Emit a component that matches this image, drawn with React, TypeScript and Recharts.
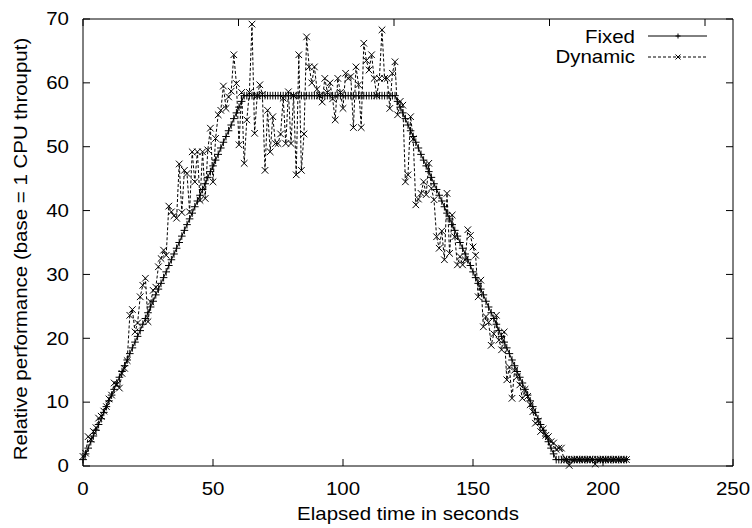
import { LineChart, Line, XAxis, YAxis, Legend } from 'recharts'

// one sample per second, t = index
const fixedPerf = [
  1.0, 1.9, 2.8, 3.8, 4.7, 5.6, 6.5, 7.4, 8.4, 9.3,
  10.2, 11.1, 12.0, 13.0, 13.9, 14.8, 15.7, 16.6, 17.6, 18.5,
  19.4, 20.3, 21.2, 22.2, 23.1, 24.0, 24.9, 25.8, 26.8, 27.7,
  28.6, 29.5, 30.4, 31.4, 32.3, 33.2, 34.1, 35.0, 36.0, 36.9,
  37.8, 38.7, 39.6, 40.6, 41.5, 42.4, 43.3, 44.2, 45.2, 46.1,
  47.0, 47.9, 48.8, 49.8, 50.7, 51.6, 52.5, 53.4, 54.4, 55.3,
  56.2, 57.1, 58.0, 58.0, 58.0, 58.0, 58.0, 58.0, 58.0, 58.0,
  58.0, 58.0, 58.0, 58.0, 58.0, 58.0, 58.0, 58.0, 58.0, 58.0,
  58.0, 58.0, 58.0, 58.0, 58.0, 58.0, 58.0, 58.0, 58.0, 58.0,
  58.0, 58.0, 58.0, 58.0, 58.0, 58.0, 58.0, 58.0, 58.0, 58.0,
  58.0, 58.0, 58.0, 58.0, 58.0, 58.0, 58.0, 58.0, 58.0, 58.0,
  58.0, 58.0, 58.0, 58.0, 58.0, 58.0, 58.0, 58.0, 58.0, 58.0,
  58.0, 57.1, 56.2, 55.3, 54.4, 53.4, 52.5, 51.6, 50.7, 49.8,
  48.8, 47.9, 47.0, 46.1, 45.2, 44.2, 43.3, 42.4, 41.5, 40.6,
  39.6, 38.7, 37.8, 36.9, 36.0, 35.0, 34.1, 33.2, 32.3, 31.4,
  30.4, 29.5, 28.6, 27.7, 26.8, 25.8, 24.9, 24.0, 23.1, 22.2,
  21.2, 20.3, 19.4, 18.5, 17.6, 16.6, 15.7, 14.8, 13.9, 13.0,
  12.0, 11.1, 10.2, 9.3, 8.4, 7.4, 6.5, 5.6, 4.7, 3.8,
  2.8, 1.9, 1.0, 1.0, 1.0, 1.0, 1.0, 1.0, 1.0, 1.0,
  1.0, 1.0, 1.0, 1.0, 1.0, 1.0, 1.0, 1.0, 1.0, 1.0,
  1.0, 1.0, 1.0, 1.0, 1.0, 1.0, 1.0, 1.0, 1.0, 1.0,
]

const dynamicPerf = [
  1.5, 2.0, 4.6, 4.2, 5.4, 6.0, 7.5, 7.8, 8.6, 9.3,
  10.5, 11.1, 13.0, 12.8, 12.2, 14.5, 15.3, 16.5, 23.6, 24.5,
  21.0, 22.4, 26.5, 28.3, 29.4, 22.6, 25.7, 27.5, 28.0, 31.2,
  32.5, 33.8, 33.0, 40.7, 39.8, 39.2, 38.8, 47.3, 39.7, 46.3,
  45.8, 39.8, 49.2, 44.5, 49.2, 41.6, 49.2, 41.9, 49.5, 52.9,
  44.5, 51.3, 55.0, 55.7, 59.5, 56.0, 57.8, 58.7, 64.4, 59.9,
  50.3, 58.5, 47.4, 54.2, 58.5, 69.2, 52.1, 58.0, 59.7, 58.2,
  46.3, 55.7, 49.2, 54.7, 50.5, 50.5, 52.0, 57.6, 50.5, 58.6,
  50.5, 58.0, 45.6, 64.4, 46.3, 52.0, 67.2, 62.5, 60.0, 62.5,
  59.0, 58.0, 57.0, 60.7, 58.5, 60.0, 57.5, 54.2, 60.7, 58.5,
  56.0, 61.5, 60.7, 61.0, 53.0, 62.5, 59.7, 53.0, 66.2, 63.5,
  62.0, 64.4, 60.7, 58.0, 60.7, 68.3, 60.7, 60.7, 56.0, 61.5,
  63.3, 55.0, 57.1, 56.5, 44.5, 45.6, 54.7, 51.2, 40.9, 41.8,
  42.7, 44.5, 42.5, 47.4, 43.5, 41.7, 35.9, 34.1, 36.8, 32.3,
  42.7, 33.3, 39.3, 35.9, 31.5, 32.8, 31.5, 32.3, 37.0, 36.1,
  34.3, 33.0, 26.5, 29.1, 21.8, 23.4, 22.5, 18.9, 20.7, 23.6,
  19.7, 18.2, 21.0, 13.5, 15.5, 10.6, 15.0, 14.0, 12.7, 10.6,
  12.0, 10.9, 9.6, 8.5, 6.7, 7.0, 5.4, 5.8, 4.8, 4.6,
  3.8, 3.6, 2.6, 2.8, 2.8, 1.0, 1.0, 0.1, 1.0, 1.0,
  1.0, 1.0, 1.0, 1.0, 1.0, 1.0, 1.0, 0.3, 1.0, 1.0,
  1.0, 1.0, 1.0, 1.0, 1.0, 1.0, 1.0, 1.0, 1.0, 1.0,
]

const xTicks = [0, 50, 100, 150, 200, 250]
const yTicks = [0, 10, 20, 30, 40, 50, 60, 70]
const seriesNames = ['Fixed', 'Dynamic']

const W = 752
const H = 528
const PL = 83
const PR = 733
const PT = 19
const PB = 466
const TICK = 7
const FONT = '"Liberation Sans", Arial, Helvetica, sans-serif'
const FS = 17.5
const SX = 1.17

const data = fixedPerf.map((v, i) => ({ t: i, fixed: v, dynamic: dynamicPerf[i] }))

function Txt({ x, y, anchor = 'middle', rotate = 0, children }: any) {
  return (
    <text
      transform={`translate(${x},${y}) rotate(${rotate}) scale(${SX},1)`}
      textAnchor={anchor}
      fontSize={FS}
      fontFamily={FONT}
      fill="#000"
    >
      {children}
    </text>
  )
}

const plusPath = (x: number, y: number, s = 3.8) => `M${x - s},${y}H${x + s}M${x},${y - s}V${y + s}`
const crossPath = (x: number, y: number, s = 3.3) =>
  `M${x - s},${y - s}L${x + s},${y + s}M${x - s},${y + s}L${x + s},${y - s}`

const PlusDot = (p: any) => (
  <path key={`p${p.index}`} d={plusPath(p.cx, p.cy)} stroke="#000" strokeWidth={1} fill="none" />
)
const CrossDot = (p: any) => (
  <path key={`c${p.index}`} d={crossPath(p.cx, p.cy)} stroke="#000" strokeWidth={1} fill="none" />
)

const BottomTick = (p: any) => (
  <g>
    <line x1={p.x} x2={p.x} y1={PB} y2={PB - TICK} stroke="#000" />
    <Txt x={p.x} y={PB + 29}>{p.payload.value}</Txt>
  </g>
)
const TopTick = (p: any) => <line x1={p.x} x2={p.x} y1={PT} y2={PT + TICK} stroke="#000" />
const LeftTick = (p: any) => (
  <g>
    <line x1={PL} x2={PL + TICK} y1={p.y} y2={p.y} stroke="#000" />
    <Txt x={69} y={p.y + 6.3} anchor="end">{p.payload.value}</Txt>
  </g>
)
const RightTick = (p: any) => <line x1={PR} x2={PR - TICK} y1={p.y} y2={p.y} stroke="#000" />

function LegendBox() {
  return (
    <svg width={W} height={H} style={{ position: 'absolute', left: 0, top: 0 }}>
      <Txt x={635} y={43} anchor="end">{seriesNames[0]}</Txt>
      <line x1={648} x2={707} y1={36} y2={36} stroke="#000" />
      <path d={plusPath(678, 36, 2.5)} stroke="#000" fill="none" />
      <Txt x={635} y={63} anchor="end">{seriesNames[1]}</Txt>
      <line x1={648} x2={707} y1={57} y2={57} stroke="#000" strokeDasharray="3 2" />
      <path d={crossPath(678, 57, 2.5)} stroke="#000" fill="none" />
    </svg>
  )
}

export default function App() {
  return (
    <div style={{ position: 'absolute', left: 0, top: 0, background: '#fff' }}>
      <LineChart width={W} height={H} data={data} margin={{ top: 0, right: 0, bottom: 0, left: 0 }}>
        <XAxis
          dataKey="t"
          type="number"
          domain={[0, 250]}
          ticks={xTicks}
          interval={0}
          height={62}
          axisLine={{ stroke: '#000' }}
          tickLine={false}
          tick={BottomTick}
          label={() => <Txt x={(PL + PR) / 2} y={520}>Elapsed time in seconds</Txt>}
        />
        <XAxis
          xAxisId="top"
          orientation="top"
          type="number"
          domain={[0, 250]}
          allowDataOverflow
          ticks={xTicks}
          interval={0}
          height={PT}
          axisLine={{ stroke: '#000' }}
          tickLine={false}
          tick={TopTick}
        />
        <YAxis
          type="number"
          domain={[0, 70]}
          ticks={yTicks}
          interval={0}
          width={PL}
          axisLine={{ stroke: '#000' }}
          tickLine={false}
          tick={LeftTick}
          label={() => (
            <Txt x={26.5} y={249} rotate={-90}>Relative performance (base = 1 CPU throuput)</Txt>
          )}
        />
        <YAxis
          yAxisId="right"
          orientation="right"
          type="number"
          domain={[0, 70]}
          allowDataOverflow
          ticks={yTicks}
          interval={0}
          width={W - PR}
          axisLine={{ stroke: '#000' }}
          tickLine={false}
          tick={RightTick}
        />
        <Legend
          layout="horizontal"
          verticalAlign="middle"
          align="center"
          wrapperStyle={{ position: 'absolute', left: 0, top: 0, width: W, height: H, pointerEvents: 'none' }}
          content={() => <LegendBox />}
        />
        <Line
          dataKey="fixed"
          name={seriesNames[0]}
          stroke="#000"
          strokeWidth={1}
          dot={PlusDot}
          activeDot={false}
          isAnimationActive={false}
        />
        <Line
          dataKey="dynamic"
          name={seriesNames[1]}
          stroke="#000"
          strokeWidth={1}
          strokeDasharray="3 2"
          dot={CrossDot}
          activeDot={false}
          isAnimationActive={false}
        />
      </LineChart>
    </div>
  )
}
